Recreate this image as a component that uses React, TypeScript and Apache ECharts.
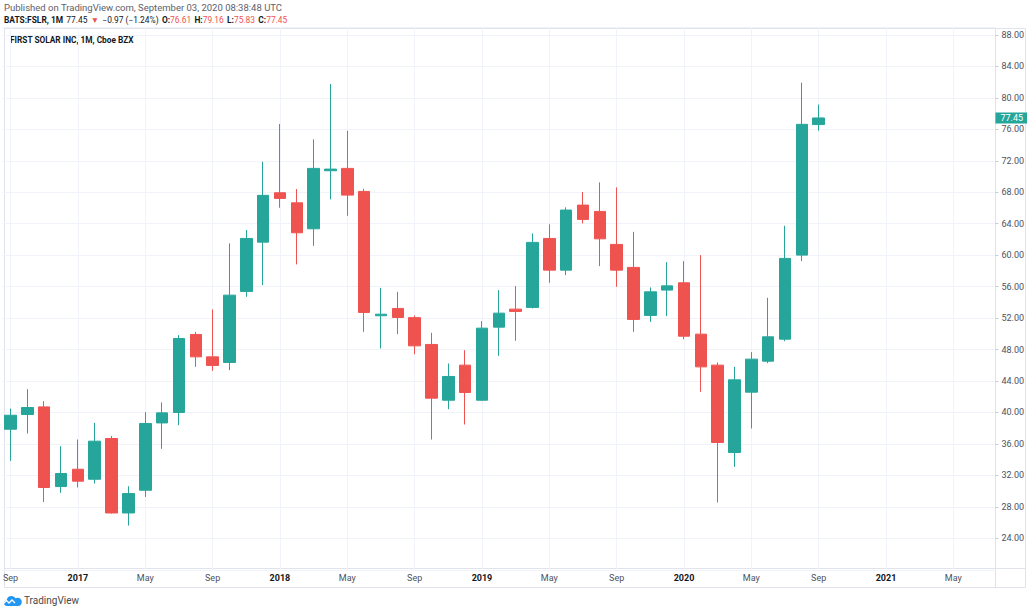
import React, { useEffect, useRef } from 'react';
import * as echarts from 'echarts';

const months = [
  '2016-09', '2016-10', '2016-11', '2016-12',
  '2017-01', '2017-02', '2017-03', '2017-04', '2017-05', '2017-06', '2017-07', '2017-08', '2017-09', '2017-10', '2017-11', '2017-12',
  '2018-01', '2018-02', '2018-03', '2018-04', '2018-05', '2018-06', '2018-07', '2018-08', '2018-09', '2018-10', '2018-11', '2018-12',
  '2019-01', '2019-02', '2019-03', '2019-04', '2019-05', '2019-06', '2019-07', '2019-08', '2019-09', '2019-10', '2019-11', '2019-12',
  '2020-01', '2020-02', '2020-03', '2020-04', '2020-05', '2020-06', '2020-07', '2020-08', '2020-09', '2020-10', '2020-11', '2020-12',
  '2021-01', '2021-02', '2021-03', '2021-04', '2021-05', '2021-06', '2021-07',
];

const opens = [37.87, 39.74, 40.71, 30.58, 32.78, 31.51, 36.69, 27.22, 30.11, 38.67, 40.0, 49.92, 47.07, 46.36, 55.39, 61.66, 67.94, 66.66, 63.36, 70.74, 71.04, 68.11, 52.3, 53.23, 52.06, 48.65, 41.56, 46.02, 41.56, 50.85, 53.14, 53.36, 62.13, 58.1, 66.37, 65.57, 61.37, 58.45, 52.34, 55.56, 56.49, 49.96, 46.02, 34.91, 42.58, 46.52, 49.32, 60.01, 76.61];
const closes = [39.65, 40.63, 30.46, 32.24, 31.26, 36.35, 27.22, 29.69, 38.6, 39.95, 49.41, 47.07, 45.98, 54.92, 62.13, 67.61, 67.22, 62.85, 71.04, 70.95, 67.64, 52.72, 52.5, 52.08, 48.47, 41.82, 44.58, 42.54, 50.72, 52.63, 52.85, 61.63, 58.1, 65.74, 64.55, 62.08, 58.1, 51.83, 55.34, 56.1, 49.7, 45.8, 36.18, 44.15, 46.78, 49.62, 59.59, 76.64, 77.45];
const lows = [33.84, 37.33, 28.62, 29.77, 30.46, 30.96, 27.15, 25.62, 29.26, 35.37, 38.38, 45.8, 45.29, 45.38, 54.7, 56.19, 66.03, 58.83, 61.19, 67.1, 65.01, 50.25, 48.14, 49.96, 47.41, 36.56, 40.42, 38.47, 41.47, 47.2, 49.11, 53.23, 56.49, 57.47, 64.04, 58.61, 55.98, 50.25, 51.52, 52.25, 49.32, 42.62, 28.55, 33.08, 37.96, 46.27, 49.07, 59.25, 75.83];
const highs = [40.5, 42.96, 41.44, 35.71, 36.56, 38.67, 37.02, 30.62, 40.04, 41.27, 49.83, 50.25, 53.1, 61.5, 63.19, 71.88, 76.68, 68.41, 74.73, 81.77, 75.82, 68.45, 55.85, 55.34, 52.34, 50.13, 46.23, 47.92, 51.61, 55.56, 56.07, 62.77, 63.92, 66.08, 68.03, 69.26, 68.62, 62.97, 55.9, 59.12, 59.25, 60.01, 46.36, 45.8, 47.67, 54.58, 63.74, 81.93, 79.16];

const monthNames = ['Jan', 'Feb', 'Mar', 'Apr', 'May', 'Jun', 'Jul', 'Aug', 'Sep', 'Oct', 'Nov', 'Dec'];
const lastPrice = 77.45;
const headerLine1 = 'Published on TradingView.com, September 03, 2020 08:38:48 UTC';
const symbolText = 'BATS:FSLR, 1M';
const changeText = '−0.97 (−1.24%)';
const ohlcLast = { O: '76.61', H: '79.16', L: '75.83', C: '77.45' };
const titleText = 'FIRST SOLAR INC, 1M, Cboe BZX';

const UP = '#26a69a';
const DOWN = '#ef5350';
const FONT = 'Roboto, "Open Sans", sans-serif';
const FRAME = '#e0e3eb';
const GRID = '#f0f3fa';

echarts.graphic.registerShape(
  'tvLogo',
  echarts.graphic.extendPath(
    'M3 12 C1.2 12 0 10.7 0 9.1 C0 7.6 1.1 6.4 2.6 6.2 C3 3.6 5 2 7.5 2 C9.3 2 10.8 3 11.6 4.4 C12.2 4 13 3.8 13.7 3.8 C16 3.8 17.8 5.6 17.8 7.9 C17.8 10.2 16.2 12 14 12 Z',
    {}
  )
);

export default function App() {
  const ref = useRef<HTMLDivElement>(null);

  useEffect(() => {
    const chart = echarts.init(ref.current as HTMLDivElement, null, { renderer: 'svg' });
    const candles = opens.map((o, i) => [o, closes[i], lows[i], highs[i]]);
    const gridMonths = months.filter((_, i) => i % 4 === 0);

    const option: any = {
      animation: false,
      backgroundColor: '#ffffff',
      grid: { left: 0.87, right: 34.57, top: 27.14, bottom: 42.25, containLabel: false },
      xAxis: {
        type: 'category',
        data: months,
        boundaryGap: true,
        axisLine: { show: false },
        axisTick: { show: false },
        splitLine: { show: false },
        axisLabel: {
          interval: 3,
          margin: 4,
          fontSize: 9,
          fontFamily: FONT,
          color: '#4c525e',
          formatter: (v: string) => {
            const [y, m] = v.split('-');
            return m === '01' ? '{yr|' + y + '}' : monthNames[parseInt(m, 10) - 1];
          },
          rich: { yr: { fontWeight: 'bold', fontSize: 9, fontFamily: FONT, color: '#131722' } },
        },
      },
      yAxis: {
        type: 'value',
        position: 'right',
        min: 20,
        max: 89,
        interval: 4,
        scale: true,
        axisLine: { show: false },
        axisTick: { show: true, length: 3, lineStyle: { color: '#c9ccd4' } },
        splitLine: { show: true, lineStyle: { color: GRID, width: 1 } },
        axisLabel: {
          showMinLabel: false,
          showMaxLabel: false,
          margin: 6,
          fontSize: 9,
          fontFamily: FONT,
          color: '#4c525e',
          formatter: (v: number) => v.toFixed(2),
        },
      },
      series: [
        {
          type: 'line',
          data: [],
          silent: true,
          z: 0,
          markLine: {
            silent: true,
            z: 1,
            symbol: ['none', 'none'],
            label: { show: false },
            lineStyle: { color: GRID, width: 1, type: 'solid' },
            emphasis: { disabled: true },
            data: gridMonths.map((m) => ({ xAxis: m })),
          },
        },
        {
          type: 'candlestick',
          z: 2,
          barWidth: 12,
          data: candles,
          itemStyle: {
            color: UP,
            color0: DOWN,
            borderColor: UP,
            borderColor0: DOWN,
            borderWidth: 1,
          },
          markLine: {
            silent: true,
            symbol: ['none', 'none'],
            lineStyle: { color: 'rgba(0,0,0,0)', width: 0 },
            label: {
              show: true,
              position: 'end',
              distance: 0,
              formatter: () => lastPrice.toFixed(2),
              color: '#ffffff',
              backgroundColor: UP,
              fontSize: 9,
              fontFamily: FONT,
              lineHeight: 10,
              padding: [1, 4, 0, 5],
            },
            data: [{ yAxis: lastPrice }],
          },
        },
      ],
      graphic: [
        {
          type: 'rect',
          silent: true,
          shape: { x: 4.5, y: 28.5, width: 1021, height: 559 },
          style: { fill: 'none', stroke: FRAME, lineWidth: 1 },
        },
        {
          type: 'line',
          silent: true,
          shape: { x1: 4.5, y1: 568.5, x2: 1025.5, y2: 568.5 },
          style: { stroke: FRAME, lineWidth: 1 },
        },
        {
          type: 'line',
          silent: true,
          shape: { x1: 995.5, y1: 28.5, x2: 995.5, y2: 587.5 },
          style: { stroke: FRAME, lineWidth: 1 },
        },
        {
          type: 'text',
          x: 4,
          y: 7.5,
          style: { text: headerLine1, fontSize: 9.5, fontFamily: FONT, fill: '#5d606b', verticalAlign: 'middle' },
        },
        {
          type: 'text',
          x: 4,
          y: 20,
          style: {
            text:
              '{b|' + symbolText + '} {n|' + lastPrice.toFixed(2) + '} {r|▼} {n|' + changeText + '} ' +
              '{b|O:}{r|' + ohlcLast.O + '} {b|H:}{r|' + ohlcLast.H + '} {b|L:}{r|' + ohlcLast.L + '} {b|C:}{r|' + ohlcLast.C + '}',
            verticalAlign: 'middle',
            rich: {
              b: { fontSize: 8.4, fontWeight: 'bold', fontFamily: FONT, fill: '#131722', color: '#131722' },
              n: { fontSize: 8.4, fontFamily: FONT, fill: '#131722', color: '#131722' },
              r: { fontSize: 8.4, fontFamily: FONT, fill: DOWN, color: DOWN },
            },
          },
        },
        {
          type: 'text',
          x: 10,
          y: 40,
          style: { text: titleText, fontSize: 8.3, fontWeight: 'bold', fontFamily: FONT, fill: '#131722', verticalAlign: 'middle' },
        },
        {
          type: 'tvLogo',
          x: 4,
          y: 594,
          scaleX: 1,
          scaleY: 1,
          style: { fill: '#2196f3' },
        },
        {
          type: 'polyline',
          shape: { points: [[3, 604], [6.5, 600.5], [9, 603], [12, 600], [15, 603]] },
          style: { stroke: '#ffffff', lineWidth: 1.3, fill: 'none' },
        },
        {
          type: 'text',
          x: 24,
          y: 600.5,
          style: { text: 'TradingView', fontSize: 10, fontFamily: FONT, fill: '#4a4a4a', verticalAlign: 'middle' },
        },
      ],
    };

    chart.setOption(option);
    return () => chart.dispose();
  }, []);

  return (
    <div
      ref={ref}
      style={{ position: 'fixed', left: 0, top: 0, width: 1030, height: 612, background: '#ffffff' }}
    />
  );
}
